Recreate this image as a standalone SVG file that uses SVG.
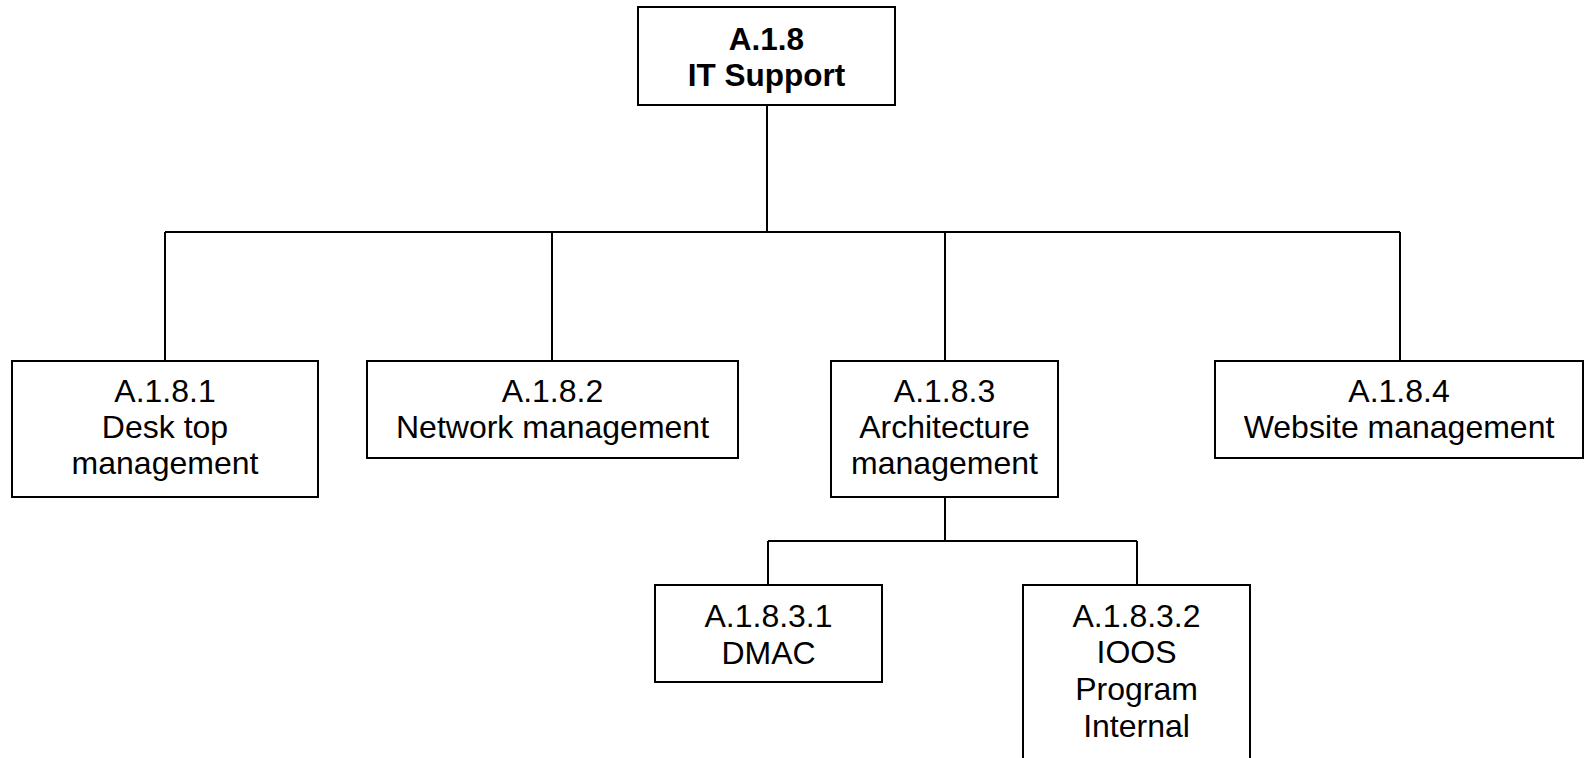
<svg xmlns="http://www.w3.org/2000/svg" width="1585" height="758" viewBox="0 0 1585 758">
<style>
.box{fill:#fff;stroke:#000;stroke-width:2}
.ln{fill:none;stroke:#000;stroke-width:2}
text{font-family:"Liberation Sans",Arial,sans-serif;font-size:32px;fill:#000;text-anchor:middle}
.b{font-weight:bold;font-size:31.5px}
</style>
<rect width="1585" height="758" fill="#fff"/>
<g id="connectors">
<path class="ln" d="M767,105V232M165,232H1400M165,232V361M552,232V361M945,232V361M1400,232V361"/>
<path class="ln" d="M945,497V541M768,541H1137M768,541V585M1137,541V585"/>
</g>
<g id="n-a18">
<rect class="box" x="638" y="7" width="257" height="98"/>
<text class="b" x="766.5" y="50">A.1.8</text>
<text class="b" x="766.5" y="86">IT Support</text>
</g>
<g id="n-a181">
<rect class="box" x="12" y="361" width="306" height="136"/>
<text x="165" y="402">A.1.8.1</text>
<text x="165" y="438">Desk top</text>
<text x="165" y="474">management</text>
</g>
<g id="n-a182">
<rect class="box" x="367" y="361" width="371" height="97"/>
<text x="552.5" y="402">A.1.8.2</text>
<text x="552.5" y="438">Network management</text>
</g>
<g id="n-a183">
<rect class="box" x="831" y="361" width="227" height="136"/>
<text x="944.5" y="402">A.1.8.3</text>
<text x="944.5" y="438">Architecture</text>
<text x="944.5" y="474">management</text>
</g>
<g id="n-a184">
<rect class="box" x="1215" y="361" width="368" height="97"/>
<text x="1399" y="402">A.1.8.4</text>
<text x="1399" y="438">Website management</text>
</g>
<g id="n-a1831">
<rect class="box" x="655" y="585" width="227" height="97"/>
<text x="768.5" y="627">A.1.8.3.1</text>
<text x="768.5" y="664">DMAC</text>
</g>
<g id="n-a1832">
<rect class="box" x="1023" y="585" width="227" height="200"/>
<text x="1136.5" y="627">A.1.8.3.2</text>
<text x="1136.5" y="663">IOOS</text>
<text x="1136.5" y="700">Program</text>
<text x="1136.5" y="737">Internal</text>
</g>
</svg>
